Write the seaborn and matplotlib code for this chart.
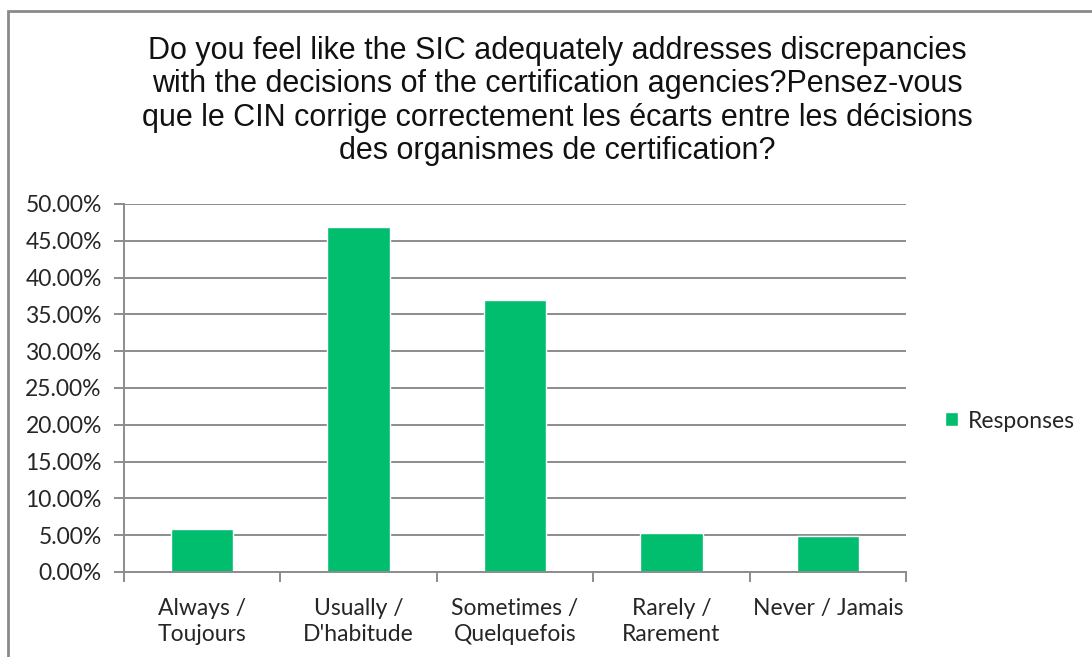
import pandas as pd
import matplotlib.pyplot as plt
import matplotlib.patches as mpatches
from matplotlib.ticker import FuncFormatter, FixedLocator
import seaborn as sns

# data
categories = ["Always /\nToujours", "Usually /\nD'habitude", "Sometimes /\nQuelquefois",
              "Rarely /\nRarement", "Never / Jamais"]
responses = [0.0585, 0.469, 0.370, 0.0525, 0.049]
title = ("Do you feel like the SIC adequately addresses discrepancies\n"
         "with the decisions of the certification agencies?Pensez-vous\n"
         "que le CIN corrige correctement les écarts entre les décisions\n"
         "des organismes de certification?")

df = pd.DataFrame({"answer": categories, "share": responses})

sns.set_style("white")
plt.rcParams['font.family'] = ['Lato', 'DejaVu Sans']

fig = plt.figure(figsize=(10.92, 6.57), dpi=100)
ax = fig.add_axes([124 / 1092, 1 - 572 / 657, (906 - 124) / 1092, (572 - 204) / 657])

sns.barplot(data=df, x="answer", y="share", color="#00be6e", width=0.4,
            saturation=1, label="Responses", ax=ax)

ax.set_ylim(0, 0.5)
ax.set_xlim(-0.5, 4.5)
ax.set_yticks([i * 0.05 for i in range(11)])
ax.yaxis.set_major_formatter(FuncFormatter(lambda v, p: f"{v * 100:.2f}%"))
ax.grid(axis="y", color="#8c8c8c", linewidth=1.4)
ax.set_axisbelow(True)

# ticks between categories, labels under the bars
ax.xaxis.set_major_locator(FixedLocator([-0.5, 0.5, 1.5, 2.5, 3.5, 4.5]))
ax.xaxis.set_major_formatter(FuncFormatter(lambda v, p: ""))
ax.xaxis.set_minor_locator(FixedLocator(range(len(categories))))
ax.set_xticklabels(categories, minor=True)
ax.tick_params(axis="x", which="major", direction="out", length=7, width=1.4,
               color="#8c8c8c", bottom=True)
ax.tick_params(axis="x", which="minor", length=0, pad=19, labelsize=16.5,
               labelcolor="#262626")
ax.tick_params(axis="y", direction="out", length=7, width=1.4, color="#8c8c8c",
               left=True, labelsize=16.5, labelcolor="#262626", pad=9)
for lbl in ax.get_xticklabels(minor=True):
    lbl.set_linespacing(1.25)

for s in ["top", "right"]:
    ax.spines[s].set_visible(False)
for s in ["left", "bottom"]:
    ax.spines[s].set_color("#8c8c8c")
    ax.spines[s].set_linewidth(1.4)

ax.set_xlabel("")
ax.set_ylabel("")

fig.text(557 / 1092, 1 - 101 / 657, title, ha="center", va="center", fontsize=22,
         family=["Liberation Sans", "DejaVu Sans"], color="#111111", linespacing=1.15)

handles, labels = ax.get_legend_handles_labels()
ax.legend(handles, labels, loc="center left", bbox_to_anchor=(929 / 1092, 1 - 421 / 657),
          bbox_transform=fig.transFigure, frameon=False, fontsize=16.5,
          handlelength=0.55, handleheight=0.55, handletextpad=0.45, borderpad=0.2,
          labelcolor="#262626")

# outer chart border
fig.patches.append(mpatches.Rectangle((8 / 1092, -0.05), 1.1, 1 - 10.5 / 657 + 0.05,
                                      transform=fig.transFigure, fill=False,
                                      edgecolor="#8a8a8a", linewidth=2))

fig.savefig("out.png", dpi=100)
